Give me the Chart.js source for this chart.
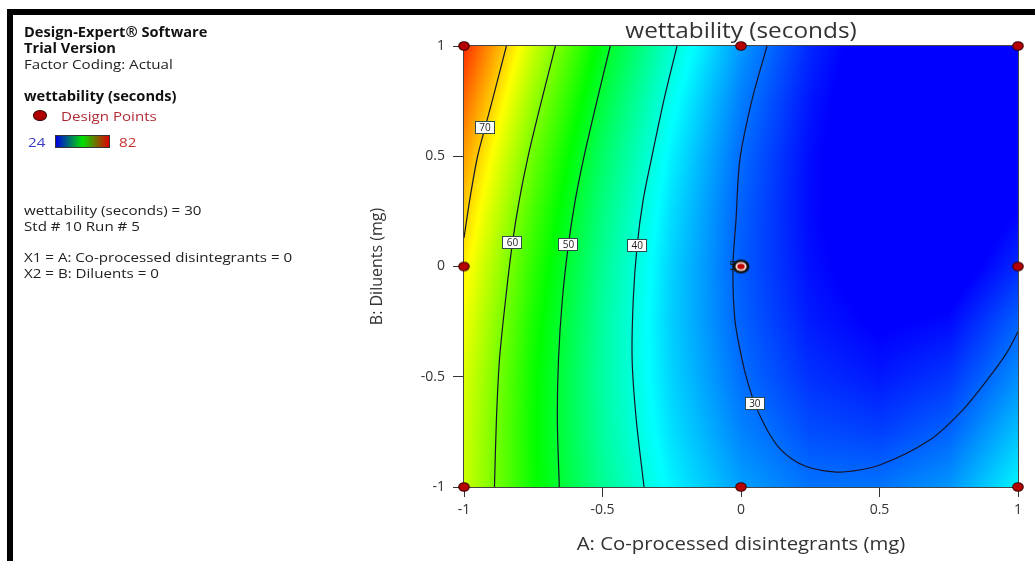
<!DOCTYPE html>
<html><head><meta charset="utf-8">
<script src="https://cdn.jsdelivr.net/npm/chart.js@4.4.1/dist/chart.umd.min.js"></script>
<style>
html,body{margin:0;padding:0;background:#fff;}
#wrap{position:relative;width:1035px;height:561px;overflow:hidden;background:#fff;font-family:"Open Sans","Noto Sans",sans-serif;}
#c{position:absolute;left:0;top:0;}
.frameTop{position:absolute;left:7px;top:9px;width:1028px;height:6px;background:#000;}
.frameLeft{position:absolute;left:7px;top:9px;width:6px;height:552px;background:#000;}
.t{position:absolute;left:24px;font-size:13.5px;line-height:16px;color:#222;white-space:nowrap;transform:scaleX(1.12);transform-origin:0 50%;}
.b{font-weight:bold;color:#111;transform:scaleX(1.085);}
</style></head>
<body><div id="wrap">
<canvas id="c" width="1035" height="561"></canvas>
<div class="frameTop"></div><div class="frameLeft"></div>
<div class="t b" style="top:24px">Design-Expert® Software</div>
<div class="t b" style="top:40px">Trial Version</div>
<div class="t" style="top:56px">Factor Coding: Actual</div>
<div class="t b" style="top:88px">wettability (seconds)</div>
<div style="position:absolute;left:33px;top:110px;width:12px;height:9px;border-radius:50%;background:#b00000;border:1.5px solid #300;"></div>
<div class="t" style="top:108px;left:61px;color:#b02a35">Design Points</div>
<div class="t" style="top:134px;left:28px;color:#3838c8">24</div>
<div style="position:absolute;left:55px;top:135px;width:53px;height:11px;border:1px solid #333;background:linear-gradient(to right,#0000e0,#00e000 50%,#e00000);"></div>
<div class="t" style="top:134px;left:119px;color:#c83030">82</div>
<div class="t" style="top:202px">wettability (seconds) = 30</div>
<div class="t" style="top:218px">Std # 10 Run # 5</div>
<div class="t" style="top:249px">X1 = A: Co-processed disintegrants = 0</div>
<div class="t" style="top:265px">X2 = B: Diluents = 0</div>
</div>
<script>
// ---- data ----
const chartTitle = 'wettability (seconds)';
const xTitle = 'A: Co-processed disintegrants (mg)';
const yTitle = 'B: Diluents (mg)';
const tickValues = [-1, -0.5, 0, 0.5, 1];
const tickLabels = ['-1', '-0.5', '0', '0.5', '1'];
const colorMin = 24, colorMax = 82;

// response surface grid (coded A across, coded B down from +1 to -1)
const gridA = [-1, -0.75, -0.5, -0.25, 0, 0.25, 0.5, 0.75, 1];
const gridB = [1, 0.75, 0.5, 0.25, 0, -0.25, -0.5, -0.75, -1];
const wettabilityGrid = [
  [79.4, 64.5, 51.8, 41.2, 32.7, 26.2, 21.9, 19.7, 20.5],
  [76.0, 61.6, 49.4, 39.2, 31.2, 25.2, 21.4, 19.6, 21.0],
  [73.0, 59.1, 47.3, 37.7, 30.1, 24.6, 21.2, 20.0, 22.0],
  [70.5, 57.1, 45.8, 36.6, 29.5, 24.5, 21.6, 20.8, 24.0],
  [68.4, 55.5, 44.7, 35.9, 29.3, 24.8, 22.4, 22.0, 26.3],
  [66.8, 54.3, 44.0, 35.7, 29.6, 25.5, 23.6, 24.5, 29.5],
  [65.6, 53.6, 43.8, 36.0, 30.3, 26.7, 25.3, 27.0, 32.0],
  [64.9, 53.4, 44.0, 36.7, 31.5, 28.4, 27.6, 29.6, 35.0],
  [64.6, 53.6, 44.7, 37.8, 33.1, 30.5, 30.6, 32.5, 38.0]
];

// contour lines (A, B)
const contour70 = [[-0.847,1],[-0.897,0.757],[-0.924,0.63],[-0.951,0.5],[-0.977,0.32],[-1,0.13]];
const contour60 = [[-0.670,1],[-0.719,0.757],[-0.768,0.503],[-0.800,0.303],[-0.825,0.108],[-0.850,-0.151],[-0.872,-0.423],[-0.883,-0.696],[-0.890,-1]];
const contour50 = [[-0.472,1],[-0.519,0.757],[-0.566,0.503],[-0.598,0.303],[-0.623,0.099],[-0.645,-0.151],[-0.659,-0.423],[-0.663,-0.696],[-0.656,-1]];
const contour40 = [[-0.231,1],[-0.278,0.757],[-0.321,0.503],[-0.353,0.303],[-0.375,0.094],[-0.389,-0.151],[-0.393,-0.423],[-0.378,-0.696],[-0.350,-1]];
const contour30 = [[0.094,1],[0.040,0.757],[-0.004,0.485],[-0.018,0.212],[-0.029,0],[-0.022,-0.242],[0.004,-0.423],[0.025,-0.528],[0.050,-0.623],[0.076,-0.696],[0.105,-0.764],[0.141,-0.827],[0.184,-0.873],[0.231,-0.905],[0.285,-0.923],[0.368,-0.932],[0.501,-0.900],[0.681,-0.787],[0.800,-0.651],[0.897,-0.501],[0.959,-0.392],[1,-0.296]];
const contourLevels = [70, 60, 50, 40, 30];
const contourLabelIndex = [2, 4, 4, 4, 8];

// design points
const designA = [-1, 0, 1, -1, 1, -1, 0, 1];
const designB = [1, 1, 1, 0, 0, -1, -1, -1];
const centerA = [0];
const centerB = [0];
const centerReplicates = ['5'];

// ---- chart ----
const FONT = '"Open Sans","Noto Sans",sans-serif';
const contours = [contour70, contour60, contour50, contour40, contour30];

function colorFor(v) {
  let t = (v - colorMin) / (colorMax - colorMin);
  t = Math.max(0, Math.min(1, t));
  const stops = [[0,0,255],[0,255,255],[0,255,0],[255,255,0],[255,0,0]];
  const s = t * 4; const i = Math.min(3, Math.floor(s)); const f = s - i;
  const a = stops[i], b = stops[i + 1];
  return [a[0] + (b[0]-a[0])*f, a[1] + (b[1]-a[1])*f, a[2] + (b[2]-a[2])*f];
}
function fieldAt(A, B) {
  let i = 0; while (i < gridA.length - 2 && A > gridA[i + 1]) i++;
  let j = 0; while (j < gridB.length - 2 && B < gridB[j + 1]) j++;
  const fx = (A - gridA[i]) / (gridA[i + 1] - gridA[i]);
  const fy = (B - gridB[j]) / (gridB[j + 1] - gridB[j]);
  const v00 = wettabilityGrid[j][i], v10 = wettabilityGrid[j][i + 1];
  const v01 = wettabilityGrid[j + 1][i], v11 = wettabilityGrid[j + 1][i + 1];
  return v00*(1-fx)*(1-fy) + v10*fx*(1-fy) + v01*(1-fx)*fy + v11*fx*fy;
}
function stretchedText(ctx, text, x, y, size, sx) {
  ctx.save();
  ctx.font = size + 'px ' + FONT;
  ctx.fillStyle = '#333'; ctx.textAlign = 'center'; ctx.textBaseline = 'middle';
  ctx.translate(x, y); ctx.scale(sx, 1);
  ctx.fillText(text, 0, 0);
  ctx.restore();
}
function makeMarker(w, h, rings) {
  const cv = document.createElement('canvas');
  cv.width = w; cv.height = h;
  const g = cv.getContext('2d');
  rings.forEach(r => {
    g.beginPath(); g.ellipse(w / 2, h / 2, r[0], r[1], 0, 0, Math.PI * 2);
    g.fillStyle = r[2]; g.fill();
  });
  return cv;
}
const designMarker = makeMarker(14, 12, [[5.8, 4.8, '#3a0000'], [4.8, 3.8, '#b40000']]);
const centerMarker = makeMarker(20, 18, [[8.5, 7, '#111'], [5.6, 4.5, '#f2d4cc'], [3.6, 2.8, '#c00000']]);

const fieldPlugin = {
  id: 'field',
  beforeDatasetsDraw(chart) {
    const {ctx, chartArea: ca, scales: {x, y}} = chart;
    const L = Math.round(ca.left), T = Math.round(ca.top);
    const W = Math.round(ca.right) - L, H = Math.round(ca.bottom) - T;
    const img = ctx.createImageData(W, H);
    for (let j = 0; j < H; j++) {
      const B = Math.max(-1, Math.min(1, y.getValueForPixel(T + j + 0.5)));
      for (let i = 0; i < W; i++) {
        const A = Math.max(-1, Math.min(1, x.getValueForPixel(L + i + 0.5)));
        const c = colorFor(fieldAt(A, B));
        const k = (j * W + i) * 4;
        img.data[k] = c[0]; img.data[k+1] = c[1]; img.data[k+2] = c[2]; img.data[k+3] = 255;
      }
    }
    ctx.putImageData(img, L, T);
    ctx.save();
    ctx.strokeStyle = '#444'; ctx.lineWidth = 1;
    ctx.strokeRect(L - 0.5, T - 0.5, W + 1, H + 1);
    ctx.fillStyle = '#222'; ctx.font = '12px ' + FONT;
    ctx.textAlign = 'right'; ctx.textBaseline = 'middle';
    ctx.fillText(centerReplicates[0], x.getPixelForValue(centerA[0]) - 5, y.getPixelForValue(centerB[0]));
    ctx.restore();
  },
  afterDatasetsDraw(chart) {
    const {ctx, scales: {x, y}} = chart;
    ctx.save();
    ctx.font = '10px ' + FONT;
    ctx.textAlign = 'center'; ctx.textBaseline = 'middle';
    contours.forEach((c, k) => {
      const p = c[contourLabelIndex[k]];
      const px = x.getPixelForValue(p[0]), py = y.getPixelForValue(p[1]);
      const w = 20, h = 13;
      ctx.fillStyle = '#fff';
      ctx.fillRect(Math.round(px - w/2), Math.round(py - h/2), w, h);
      ctx.strokeStyle = '#2e4a4a'; ctx.lineWidth = 1;
      ctx.strokeRect(Math.round(px - w/2) + 0.5, Math.round(py - h/2) + 0.5, w - 1, h - 1);
      ctx.fillStyle = '#222';
      ctx.fillText(String(contourLevels[k]), px, py + 0.5);
    });
    ctx.restore();
  },
  afterDraw(chart) {
    const {ctx, chartArea: ca} = chart;
    const cx = (ca.left + ca.right) / 2;
    stretchedText(ctx, chartTitle, cx, 32, 21, 1.16);
    stretchedText(ctx, xTitle, cx, 545, 18, 1.13);
  }
};

const toXY = arr => arr.map(p => ({x: p[0], y: p[1]}));
const lineStyle = {showLine: true, tension: 0.3, borderColor: '#15152a', borderWidth: 1.2, pointRadius: 0, fill: false};
const datasets = [
  { label: 'Centre point', data: centerA.map((a, i) => ({x: a, y: centerB[i]})), pointStyle: centerMarker, pointRadius: 9, order: 0, clip: false },
  { label: 'Design Points', data: designA.map((a, i) => ({x: a, y: designB[i]})), pointStyle: designMarker, pointRadius: 6, order: 1, clip: false }
];
contours.forEach((c, k) => datasets.push({ label: 'contour ' + contourLevels[k], data: toXY(c), order: 10 + k, ...lineStyle }));

const tickFont = {family: FONT, size: 14};
new Chart(document.getElementById('c'), {
  type: 'scatter',
  data: {datasets},
  options: {
    responsive: false, animation: false, devicePixelRatio: 1,
    events: [],
    layout: {padding: {left: 360, right: 17, top: 46, bottom: 0}},
    plugins: {legend: {display: false}, tooltip: {enabled: false}, title: {display: false}},
    scales: {
      x: {
        type: 'linear', min: -1, max: 1,
        afterFit: s => { s.height = 74; },
        afterBuildTicks: s => { s.ticks = tickValues.map(v => ({value: v})); },
        ticks: {callback: (v, i) => tickLabels[i], color: '#333', font: tickFont, padding: 5, maxRotation: 0, autoSkip: false},
        grid: {display: true, drawOnChartArea: false, drawTicks: true, tickLength: 10, color: '#333', lineWidth: 1},
        border: {display: true, color: '#333'},
        title: {display: false}
      },
      y: {
        type: 'linear', min: -1, max: 1,
        afterFit: s => { s.width = 104; },
        afterBuildTicks: s => { s.ticks = tickValues.map(v => ({value: v})); },
        ticks: {callback: (v, i) => tickLabels[i], color: '#333', font: tickFont, padding: 8, autoSkip: false},
        grid: {display: true, drawOnChartArea: false, drawTicks: true, tickLength: 11, color: '#333', lineWidth: 1},
        border: {display: true, color: '#333'},
        title: {display: true, text: yTitle, color: '#333', font: {family: FONT, size: 16}, padding: {top: 8, bottom: 0}}
      }
    }
  },
  plugins: [fieldPlugin]
});
</script>
</body></html>
